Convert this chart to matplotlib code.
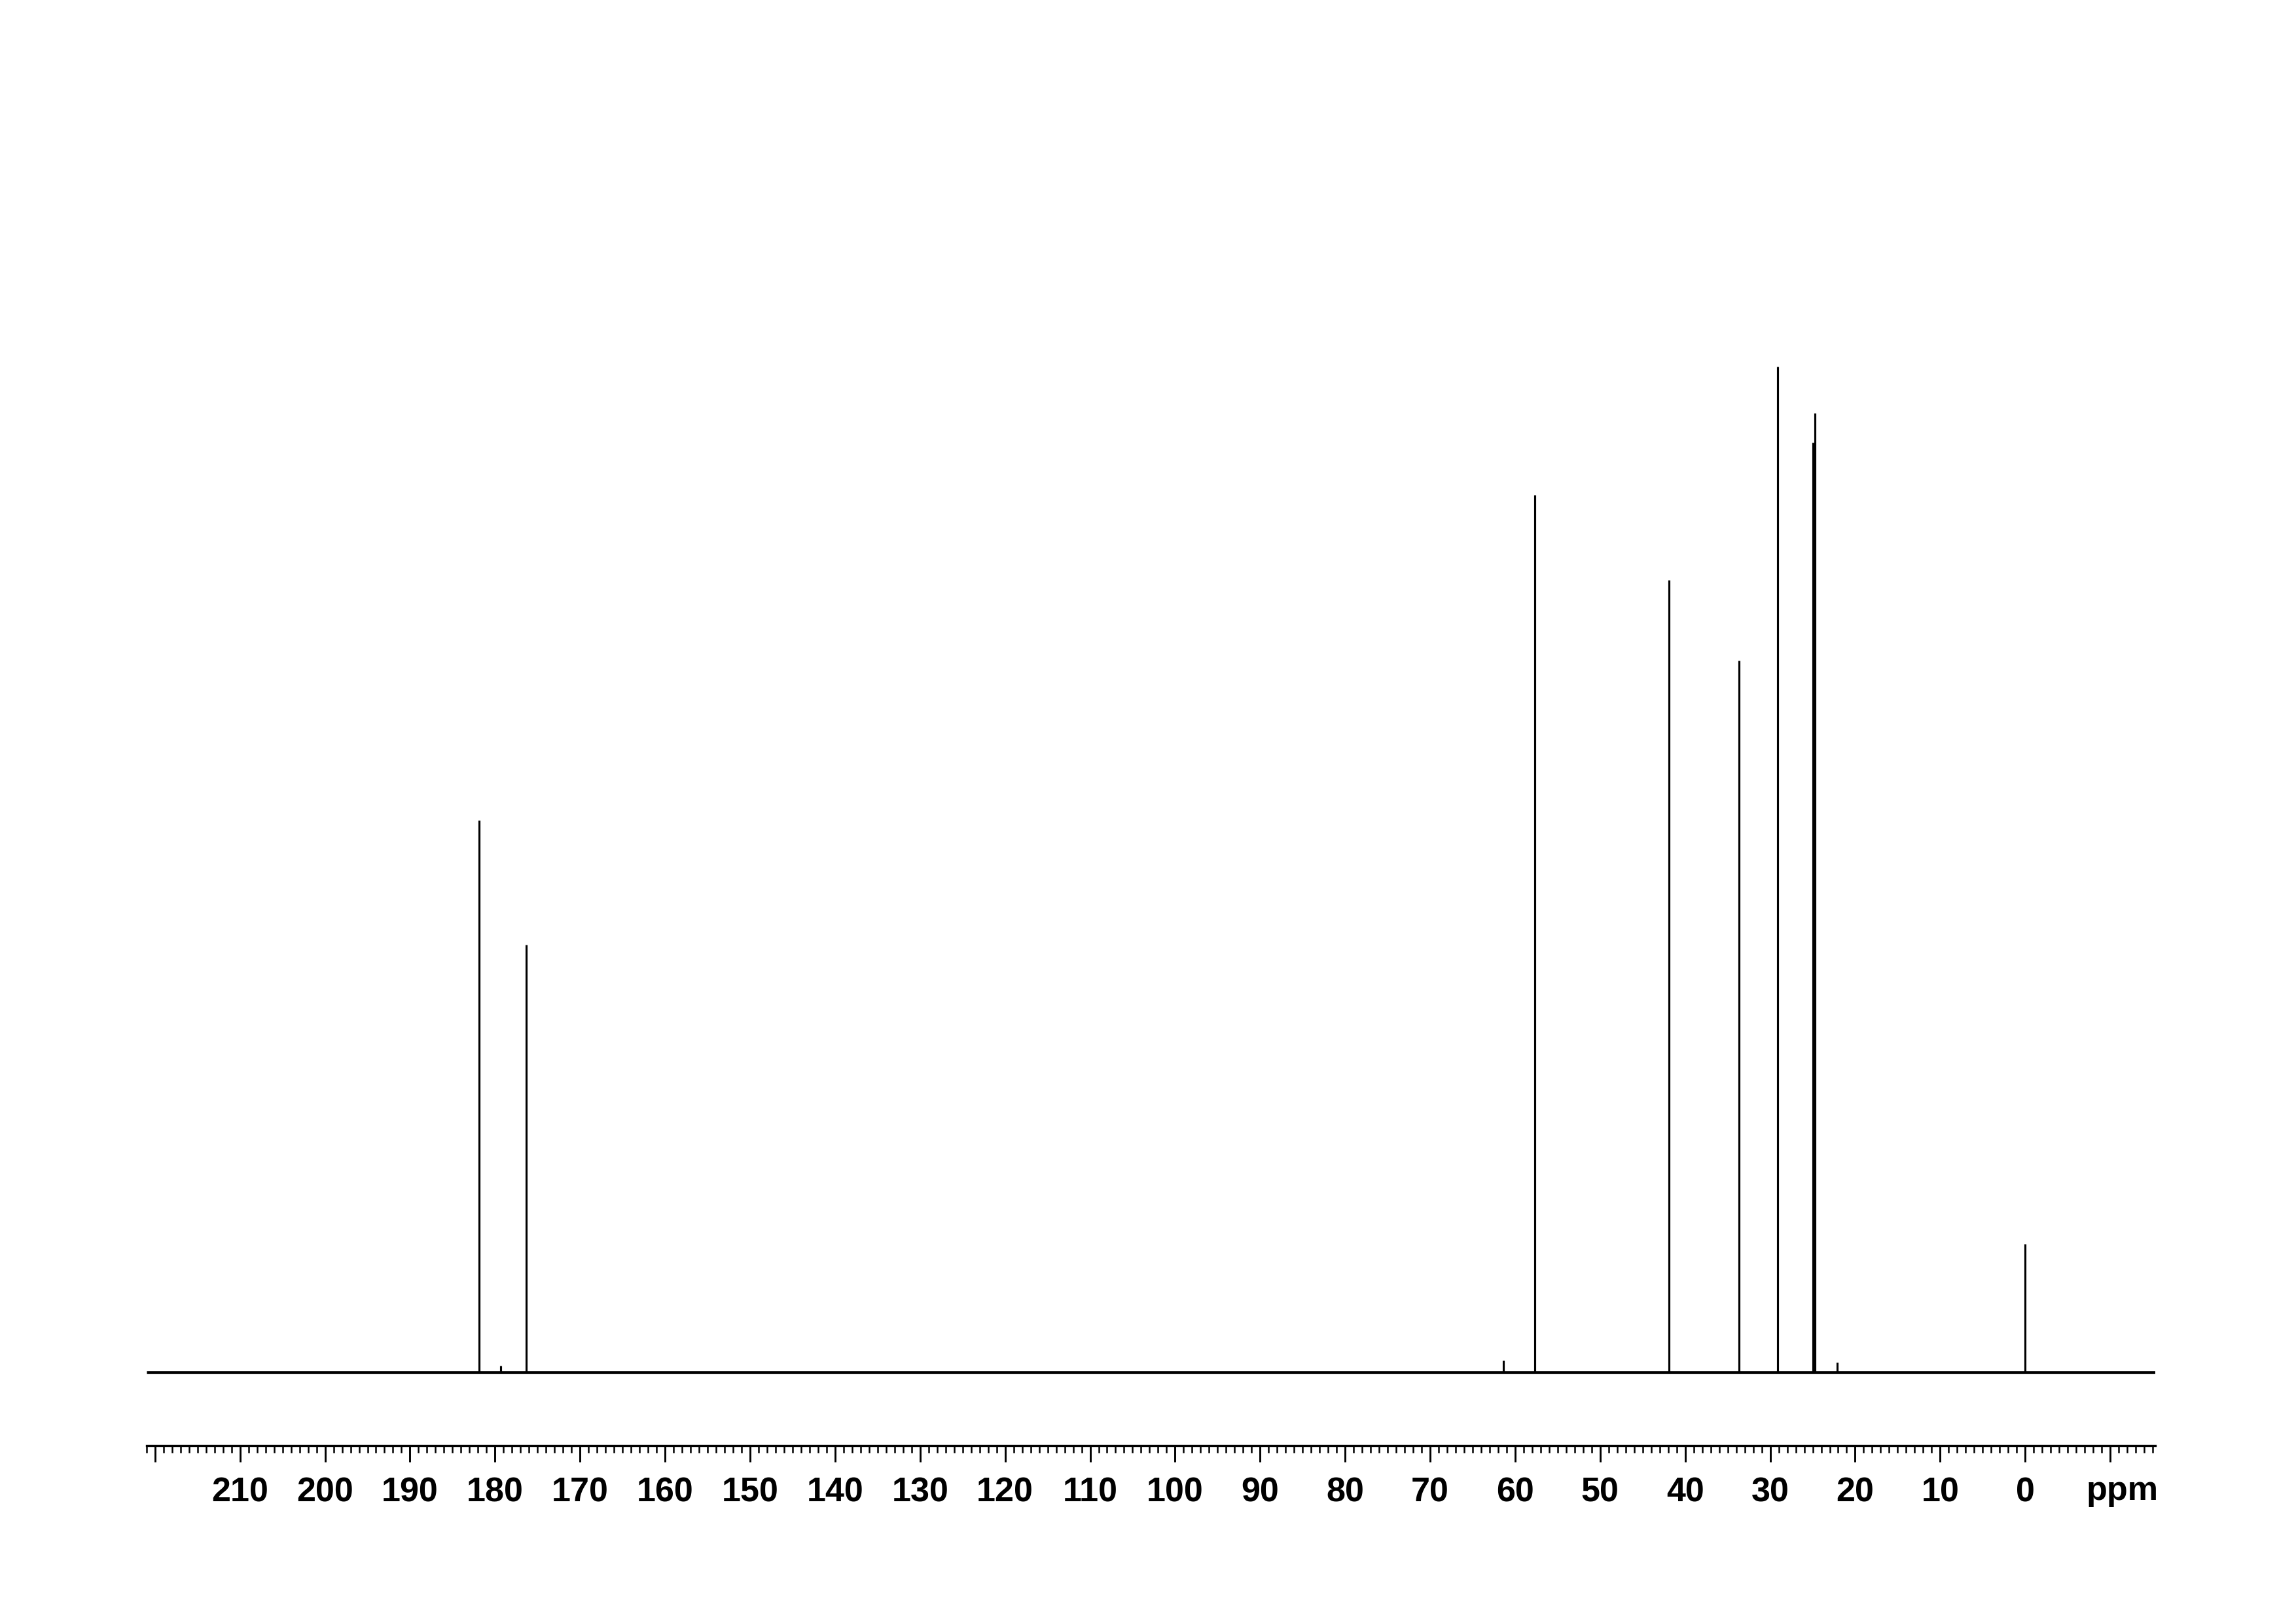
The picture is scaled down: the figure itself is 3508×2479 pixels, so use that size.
import matplotlib

matplotlib.use('Agg')
import matplotlib.pyplot as plt
import numpy as np

# 13C spectrum: peak shift (ppm) and height (arbitrary units)
peak_ppm = [181.9, 179.3, 176.3, 61.4, 57.7, 41.9, 33.7, 29.1, 25.0, 24.7, 22.1, 0.0]
peak_height = [843, 10, 653, 18, 1340, 1210, 1087, 1536, 1420, 1465, 15, 196]

x_left = 221.0
x_right = -15.3
major_ticks = list(range(220, -11, -10))
tick_labels = ['' if t in (220, -10) else str(t) for t in major_ticks]
unit_label = 'ppm'
unit_pos = -11.4

plt.rcParams['font.family'] = ['Liberation Sans', 'DejaVu Sans']

fig = plt.figure(figsize=(3508 / 300, 2479 / 300), dpi=300)
ax = fig.add_axes([0.0638, 0.1093, 0.8749, 0.7293])

# baseline (thicker to stand in for the noise band)
ax.plot([x_left, x_right], [0, 0], color='black', lw=1.1, solid_capstyle='butt')

# the peaks
ax.vlines(peak_ppm, 0, peak_height, color='black', lw=0.75)

ax.set_xlim(x_left, x_right)
ax.set_ylim(-112, 1696)

for side in ['top', 'left', 'right']:
    ax.spines[side].set_visible(False)
ax.spines['bottom'].set_linewidth(0.8)
ax.set_yticks([])

ax.set_xticks(major_ticks)
ax.set_xticklabels(tick_labels)
ax.set_xticks(np.arange(-15, 222, 1), minor=True)
ax.tick_params(axis='x', which='major', direction='out', length=6, width=0.7,
               pad=5.5, labelsize=12.5)
ax.tick_params(axis='x', which='minor', direction='out', length=2.6, width=0.6)
for lab in ax.get_xticklabels():
    lab.set_fontweight('bold')

ax.text(unit_pos, -83 / 1808, unit_label, transform=ax.get_xaxis_transform(),
        ha='center', va='baseline', fontsize=12.5, fontweight='bold')

fig.savefig('out.png', dpi=300)
plt.close()
